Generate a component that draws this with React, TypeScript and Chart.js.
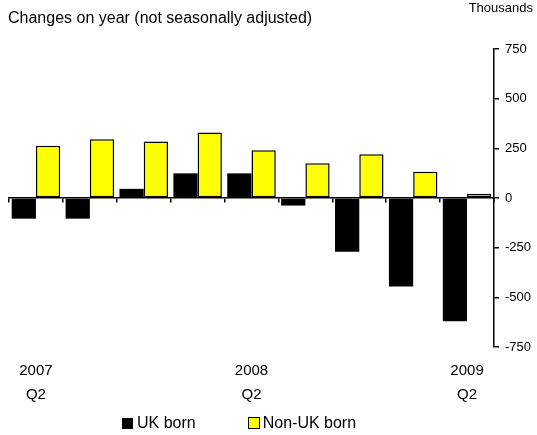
import React, { useEffect, useRef } from "react";
import { Chart, registerables } from "chart.js";

Chart.register(...registerables);

const categories = ["2007 Q2", "2007 Q3", "2007 Q4", "2008 Q1", "2008 Q2", "2008 Q3", "2008 Q4", "2009 Q1", "2009 Q2"];
const ukBorn = [-104, -104, 46, 124, 124, -38, -270, -445, -620];
const nonUkBorn = [263, 296, 285, 330, 240, 175, 220, 132, 21];
const yTicks = [-750, -500, -250, 0, 250, 500, 750];

const FONT = "'Liberation Sans', Arial, sans-serif";

export default function App() {
  const canvasRef = useRef<HTMLCanvasElement | null>(null);

  useEffect(() => {
    if (!canvasRef.current) return;
    const chart = new Chart(canvasRef.current, {
      type: "bar",
      data: {
        labels: categories,
        datasets: [
          {
            label: "UK born",
            data: ukBorn,
            backgroundColor: "#000000",
            borderWidth: 0,
            xAxisID: "x",
            categoryPercentage: 0.9,
            barPercentage: 1.0,
          },
          {
            label: "Non-UK born",
            data: nonUkBorn,
            backgroundColor: "#FFFF00",
            borderColor: "#000000",
            borderWidth: 1.5,
            borderSkipped: false,
            xAxisID: "x",
            categoryPercentage: 0.9,
            barPercentage: 1.0,
          },
        ],
      },
      options: {
        responsive: false,
        animation: false,
        layout: { padding: { top: 49, left: 9, right: 0, bottom: 0 } },
        plugins: {
          legend: { display: false },
          tooltip: { enabled: false },
        },
        scales: {
          x: {
            type: "category",
            position: { y: 0 },
            grid: {
              display: true,
              drawOnChartArea: false,
              drawTicks: true,
              tickLength: 4,
              offset: true,
              color: "#000000",
              lineWidth: 1.5,
            },
            border: { display: true, color: "#000000", width: 1.5 },
            ticks: { display: false },
          },
          x2: {
            type: "category",
            position: "bottom",
            offset: true,
            grid: { display: false, drawTicks: false },
            border: { display: false },
            afterFit: (scale: any) => {
              scale.height = 88;
            },
            ticks: {
              autoSkip: false,
              maxRotation: 0,
              minRotation: 0,
              padding: 12,
              color: "#000000",
              font: { family: FONT, size: 15, lineHeight: 1.6 },
              callback: (_v: any, i: number) => {
                const c = categories[i];
                if (c && c.endsWith("Q2")) {
                  const [yr, q] = c.split(" ");
                  return [yr, q];
                }
                return "";
              },
            },
          },
          y: {
            position: "right",
            min: -750,
            max: 750,
            afterBuildTicks: (scale: any) => {
              scale.ticks = yTicks.map((v) => ({ value: v }));
            },
            afterFit: (scale: any) => {
              scale.width = 43;
            },
            grid: {
              display: true,
              drawOnChartArea: false,
              drawTicks: true,
              tickLength: 5,
              color: "#000000",
              lineWidth: 1.5,
            },
            border: { display: true, color: "#000000", width: 1.5 },
            ticks: {
              padding: 6,
              color: "#000000",
              font: { family: FONT, size: 13 },
            },
          },
        },
      },
    });
    return () => chart.destroy();
  }, []);

  return (
    <div
      style={{
        position: "fixed",
        left: 0,
        top: 0,
        width: 537,
        height: 435,
        background: "#ffffff",
        fontFamily: FONT,
        color: "#000",
      }}
    >
      <canvas ref={canvasRef} width={537} height={435} style={{ position: "absolute", left: 0, top: 0 }} />
      <div style={{ position: "absolute", left: 8, top: 8, fontSize: 16, lineHeight: "20px", whiteSpace: "nowrap" }}>
        Changes on year (not seasonally adjusted)
      </div>
      <div style={{ position: "absolute", right: 4, top: 0, fontSize: 13, lineHeight: "16px", whiteSpace: "nowrap" }}>
        Thousands
      </div>
      <div
        style={{
          position: "absolute",
          left: 122,
          top: 413,
          fontSize: 16,
          lineHeight: "20px",
          display: "flex",
          alignItems: "center",
          whiteSpace: "nowrap",
        }}
      >
        <span style={{ display: "inline-block", width: 11, height: 11, background: "#000", marginRight: 4 }} />
        <span>UK born</span>
        <span
          style={{
            display: "inline-block",
            width: 10,
            height: 10,
            background: "#FFFF00",
            border: "1.5px solid #000",
            marginLeft: 52,
            marginRight: 3,
          }}
        />
        <span>Non-UK born</span>
      </div>
    </div>
  );
}
